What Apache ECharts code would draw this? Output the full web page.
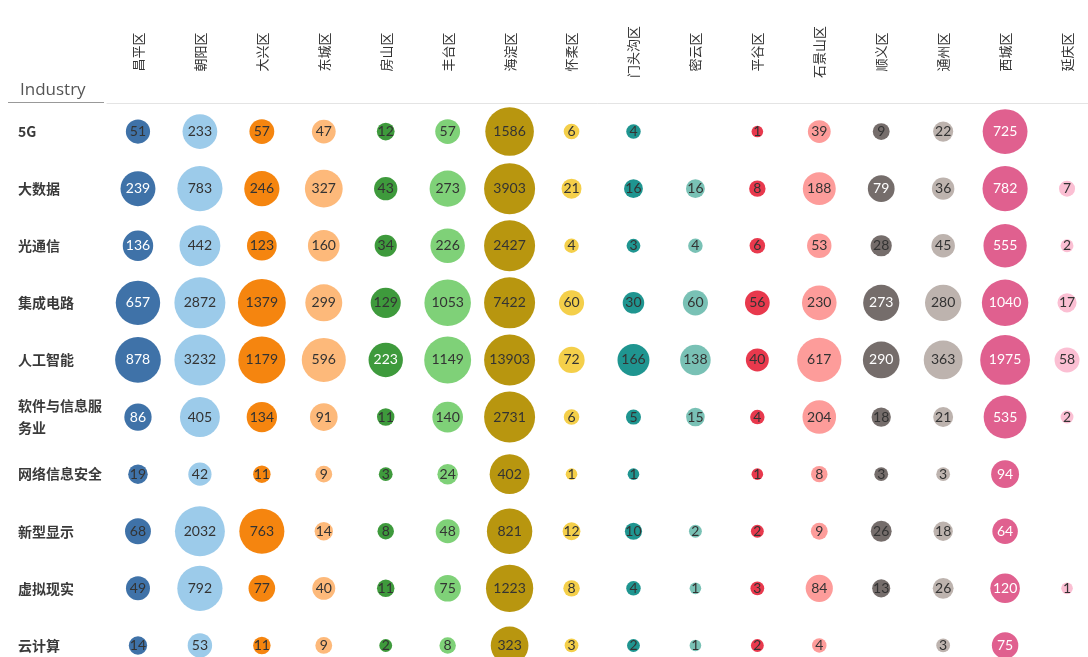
<!DOCTYPE html>
<html>
<head>
<meta charset="utf-8">
<script src="https://cdn.jsdelivr.net/npm/echarts@6/dist/echarts.min.js"></script>
<style>html,body{margin:0;padding:0;background:#fff;}#c{width:1088px;height:657px;}</style>
</head>
<body>
<div id="c"></div>
<script>
const districts = ['昌平区','朝阳区','大兴区','东城区','房山区','丰台区','海淀区','怀柔区','门头沟区','密云区','平谷区','石景山区','顺义区','通州区','西城区','延庆区'];
const industries = ['5G','大数据','光通信','集成电路','人工智能','软件与信息服务业','网络信息安全','新型显示','虚拟现实','云计算'];
const districtColors = ['#3f72a8','#9ccbea','#f5850f','#fdb97a','#3e9a3c','#7fd178','#b8960f','#f4cf4a','#1f9590','#79c1b5','#e8394d','#fd9c9a','#756d6b','#bdb3ae','#e0608f','#fbbfd3'];

const row5G      = [51, 233, 57, 47, 12, 57, 1586, 6, 4, null, 1, 39, 9, 22, 725, null];
const rowBigData = [239, 783, 246, 327, 43, 273, 3903, 21, 16, 16, 8, 188, 79, 36, 782, 7];
const rowOptical = [136, 442, 123, 160, 34, 226, 2427, 4, 3, 4, 6, 53, 28, 45, 555, 2];
const rowIC      = [657, 2872, 1379, 299, 129, 1053, 7422, 60, 30, 60, 56, 230, 273, 280, 1040, 17];
const rowAI      = [878, 3232, 1179, 596, 223, 1149, 13903, 72, 166, 138, 40, 617, 290, 363, 1975, 58];
const rowSoftware= [86, 405, 134, 91, 11, 140, 2731, 6, 5, 15, 4, 204, 18, 21, 535, 2];
const rowSecurity= [19, 42, 11, 9, 3, 24, 402, 1, 1, null, 1, 8, 3, 3, 94, null];
const rowDisplay = [68, 2032, 763, 14, 8, 48, 821, 12, 10, 2, 2, 9, 26, 18, 64, null];
const rowVR      = [49, 792, 77, 40, 11, 75, 1223, 8, 4, 1, 3, 84, 13, 26, 120, 1];
const rowCloud   = [14, 53, 11, 9, 2, 8, 323, 3, 2, 1, 2, 4, null, 3, 75, null];

const rows = [row5G, rowBigData, rowOptical, rowIC, rowAI, rowSoftware, rowSecurity, rowDisplay, rowVR, rowCloud];

function sizeOf(v){
  const s = 6 + 5.6 * Math.pow(v, 0.3);
  return s <= 44 ? s : Math.min(51, 44 + (s - 44) * 0.35);
}
// size above which the label is drawn in white, per district (Infinity = never)
const whiteFrom = [26, Infinity, Infinity, Infinity, 32, Infinity, Infinity, Infinity, 32, Infinity, Infinity, Infinity, 26, Infinity, 20, Infinity];

const data = [];
rows.forEach((r, yi) => {
  r.forEach((v, xi) => {
    if (v === null) return;
    const white = sizeOf(v) >= whiteFrom[xi];
    data.push({
      value: [xi, yi, v],
      itemStyle: { color: districtColors[xi], opacity: 1 },
      label: { color: white ? '#ffffff' : '#333333' }
    });
  });
});

const chart = echarts.init(document.getElementById('c'));
chart.setOption({
  backgroundColor: '#ffffff',
  animation: false,
  title: {
    text: 'Industry', left: 15, top: 77,
    textStyle: { fontSize: 17, fontWeight: 'normal', color: '#555', fontFamily: 'Open Sans, Noto Sans, sans-serif' }
  },
  graphic: [{
    type: 'line', shape: { x1: 8, y1: 102.5, x2: 104, y2: 102.5 },
    style: { stroke: '#999', lineWidth: 1 }
  }],
  grid: { left: 107, right: -10, top: 103, bottom: -17, outerBoundsMode: 'none', containLabel: false },
  xAxis: {
    type: 'category', position: 'top', data: districts,
    axisLine: { show: true, lineStyle: { color: '#e4e4e4' } },
    axisTick: { show: false },
    splitLine: { show: false },
    axisLabel: {
      rotate: -90, align: 'center', verticalAlign: 'middle', margin: 51, interval: 0,
      fontSize: 13, color: '#333', fontFamily: 'Noto Sans CJK SC'
    }
  },
  yAxis: {
    type: 'category', inverse: true, data: industries,
    axisLine: { show: false }, axisTick: { show: false }, splitLine: { show: false },
    axisLabel: {
      align: 'left', margin: 89, width: 88, overflow: 'break', interval: 0,
      fontSize: 14, fontWeight: 'bold', color: '#3a3a3a', lineHeight: 22,
      fontFamily: 'Noto Sans CJK SC'
    }
  },
  series: [{
    type: 'scatter',
    data: data,
    symbolSize: function (val) { return sizeOf(val[2]); },
    label: {
      show: true, position: 'inside',
      formatter: function (p) { return p.value[2]; },
      fontSize: 14, fontFamily: 'Lato, Noto Sans, sans-serif'
    },
    emphasis: { disabled: true }
  }]
});
</script>
</body>
</html>
